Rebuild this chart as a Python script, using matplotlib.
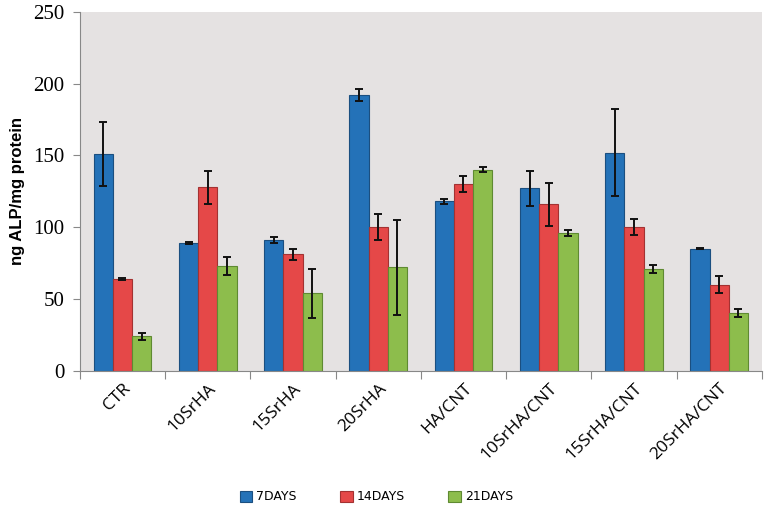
import numpy as np
import matplotlib
matplotlib.use("Agg")
import matplotlib.pyplot as plt

categories = ["CTR", "10SrHA", "15SrHA", "20SrHA", "HA/CNT",
              "10SrHA/CNT", "15SrHA/CNT", "20SrHA/CNT"]
series_names = ["7DAYS", "14DAYS", "21DAYS"]

days7 = [151, 89, 91, 192, 118, 127, 152, 85]
days7_err = [22, 1, 2, 4, 2, 12, 30, 0.5]
days14 = [64, 128, 81, 100, 130, 116, 100, 60]
days14_err = [0.7, 11.5, 3.5, 9, 5.5, 15, 5.5, 5.8]
days21 = [24, 73, 54, 72, 140, 96, 71, 40]
days21_err = [2.5, 6.5, 17, 33, 1.8, 2, 3, 2.7]

colors = ["#2472b8", "#e54848", "#8dbd4c"]
edges = ["#1b4f80", "#a33232", "#5f8a32"]

fig = plt.figure(figsize=(7.68, 5.15), dpi=100)
ax = fig.add_axes([0.104, 0.28, 0.888, 0.697])
ax.set_facecolor("#e5e2e2")

x = np.arange(len(categories))
w = 0.225
vals = [days7, days14, days21]
errs = [days7_err, days14_err, days21_err]
for i in range(3):
    ax.bar(x + (i - 1) * w, vals[i], w, color=colors[i], edgecolor=edges[i],
           linewidth=0.8, label=series_names[i], zorder=2)
    ax.errorbar(x + (i - 1) * w, vals[i], yerr=errs[i], fmt="none",
                ecolor="#111111", elinewidth=1.4, capsize=3.2, capthick=1.4, zorder=3)

ax.set_xlim(-0.5, len(categories) - 0.5)
ax.set_ylim(0, 250)
ax.set_yticks(np.arange(0, 251, 50))
ax.set_yticklabels([str(v) for v in range(0, 251, 50)],
                   family="Liberation Serif", fontsize=15)

# ticks sit at category boundaries, labels under the category centres
ax.set_xticks(np.arange(-0.5, len(categories)), minor=False)
ax.set_xticklabels([])
ax.set_xticks(x, minor=True)
ax.set_xticklabels(categories, minor=True, rotation=45, ha="right",
                   rotation_mode="anchor", fontsize=12.5, family="Open Sans")
ax.tick_params(axis="x", which="minor", length=0, pad=7)
ax.tick_params(axis="x", which="major", length=6, color="#888888")
ax.tick_params(axis="y", length=5, color="#888888", pad=6)

for s in ["top", "right"]:
    ax.spines[s].set_visible(False)
for s in ["left", "bottom"]:
    ax.spines[s].set_color("#888888")

ax.set_ylabel("ng ALP/mg protein", fontsize=12, fontweight="bold",
              family="Liberation Sans", labelpad=6)

fig.legend(loc="center", bbox_to_anchor=(0.49, 0.035), ncol=3, frameon=False,
           fontsize=9, handlelength=1.0, handleheight=1.0, columnspacing=3.5,
           handletextpad=0.3)

fig.savefig("out.png", dpi=100)
